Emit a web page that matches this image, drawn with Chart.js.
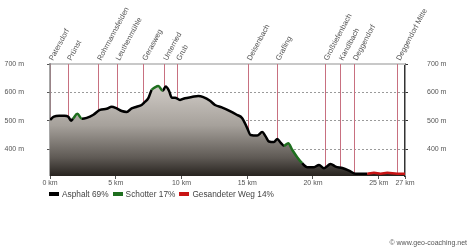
<!DOCTYPE html>
<html>
<head>
<meta charset="utf-8">
<script src="https://cdn.jsdelivr.net/npm/chart.js@4.4.1/dist/chart.umd.min.js"></script>
<style>
  html, body { margin: 0; padding: 0; background: #fff; }
  #wrap { position: relative; width: 474px; height: 247px; overflow: hidden; }
  #legend { position: absolute; left: 49px; top: 189px; font: 8.3px "Liberation Sans", Arial, sans-serif; color: #444; white-space: nowrap; }
  #legend span.sw { display: inline-block; width: 10px; height: 4px; margin-right: 3px; vertical-align: 1px; }
  #legend span.item { margin-right: 4px; }
  #copy { position: absolute; right: 7px; top: 239px; font: 7px "Liberation Sans", Arial, sans-serif; color: #555; }
</style>
</head>
<body>
<div id="wrap">
  <canvas id="profileChart" width="474" height="247"></canvas>
  <div id="legend"></div>
  <div id="copy">© www.geo-coaching.net</div>
</div>
<script>
// profile: distance (km) and elevation (m)
const distKm = [0, 0.3, 0.7, 1.1, 1.39, 1.6, 1.75, 2.08, 2.43, 2.79, 3.3, 3.8, 4.31, 4.69, 5.07, 5.45, 5.83, 6.21, 6.59, 6.97,
  7.15, 7.48, 7.73, 7.98, 8.24, 8.57, 8.8, 9.05, 9.26, 9.51, 9.89, 10.27, 10.78, 11.28, 11.66, 12.17, 12.55, 13.06, 13.69, 14.2,
  14.62, 15.0, 15.26, 15.76, 16.14, 16.4, 16.65, 17.03, 17.29, 17.54, 17.79, 18.12, 18.42, 18.8, 19.18, 19.57, 20.08, 20.46, 20.84, 21.34,
  21.72, 22.23, 22.74, 23.25, 24.0, 24.13, 24.64, 25.15, 25.65, 26.41, 27];
const elevM = [504, 515, 518, 518, 515, 501, 508, 525, 508, 511, 522, 539, 543, 550, 544, 535, 532, 544, 550, 556,
  564, 580, 609, 618, 623, 606, 621, 606, 582, 582, 574, 580, 584, 588, 584, 571, 556, 548, 535, 522,
  510, 475, 451, 449, 461, 446, 428, 426, 437, 424, 413, 422, 399, 373, 352, 338, 338, 346, 334, 349,
  340, 335, 326, 315, 315, 315, 318, 315, 318, 315, 315];
// surface of the segment starting at each point: A = Asphalt, S = Schotter, G = Gesandeter Weg
const surface = ["A","A","A","A","A","A","S","S","A","A","A","A","A","A","A","A","A","A","A","A",
  "A","A","S","S","S","A","A","A","A","A","A","A","A","A","A","A","A","A","A","A",
  "A","A","A","A","A","A","A","A","A","A","S","S","S","S","A","A","A","A","A","A",
  "A","A","A","A","A","G","G","G","G","G","G"];

const surfaceNames = ["Asphalt 69%", "Schotter 17%", "Gesandeter Weg 14%"];
const surfaceColors = { A: "#000000", S: "#1e6e1e", G: "#c81414" };

const waypointKm = [0, 1.39, 3.67, 5.07, 7.1, 8.69, 9.68, 15.06, 17.24, 20.89, 22.05, 23.12, 26.41];
const waypointNames = ["Patersdorf", "Prünst", "Rohrmannsfelden", "Leuthenmühle", "Gerasweg", "Unterried", "Grub",
  "Deisenbach", "Grafling", "Großtiefenbach", "Kandlbach", "Deggendorf", "Deggendorf Mitte"];

const xTicks = [0, 5, 10, 15, 20, 25, 27];
const yTicks = [400, 500, 600, 700];

const legendEl = document.getElementById("legend");
["A", "S", "G"].forEach((k, i) => {
    const item = document.createElement("span");
    item.className = "item";
    item.innerHTML = `<span class="sw" style="background:${surfaceColors[k]}"></span>${surfaceNames[i]}`;
    legendEl.appendChild(item);
});

const tickFont = { family: "Liberation Sans", size: 7 };
const profilePoints = distKm.map((d, i) => ({ x: d, y: elevM[i] }));

const waypointPlugin = {
    id: "waypoints",
    beforeDatasetsDraw(chart) {
        const { ctx, chartArea, scales } = chart;
        ctx.save();
        // top border at 700 m
        ctx.strokeStyle = "#c8c8c8";
        ctx.lineWidth = 2;
        ctx.beginPath();
        ctx.moveTo(chartArea.left, chartArea.top);
        ctx.lineTo(chartArea.right, chartArea.top);
        ctx.stroke();
        ctx.strokeStyle = "#c87080";
        ctx.lineWidth = 1;
        waypointKm.forEach(km => {
            const x = Math.round(scales.x.getPixelForValue(km)) + 0.5;
            ctx.beginPath();
            ctx.moveTo(x, chartArea.top);
            ctx.lineTo(x, chartArea.bottom);
            ctx.stroke();
        });
        // left axis line
        ctx.strokeStyle = "#8a8a8a";
        ctx.lineWidth = 1.5;
        ctx.beginPath();
        ctx.moveTo(chartArea.left, chartArea.top - 1);
        ctx.lineTo(chartArea.left, chartArea.bottom);
        ctx.stroke();
        ctx.restore();
    },
    afterDraw(chart) {
        const { ctx, chartArea, scales } = chart;
        ctx.save();
        ctx.fillStyle = "#555";
        ctx.font = "7.5px 'Liberation Sans', Arial, sans-serif";
        ctx.textAlign = "left";
        ctx.textBaseline = "alphabetic";
        waypointKm.forEach((km, i) => {
            const x = scales.x.getPixelForValue(km);
            ctx.save();
            ctx.translate(x + 3, chartArea.top - 3);
            ctx.rotate(-62 * Math.PI / 180);
            ctx.fillText(waypointNames[i], 0, 0);
            ctx.restore();
        });
        ctx.restore();
    }
};

new Chart(document.getElementById("profileChart"), {
    type: "line",
    data: {
        datasets: [
            {
                // surface-coloured profile line
                data: profilePoints,
                borderColor: "#000",
                borderWidth: 2.5,
                pointRadius: 0,
                cubicInterpolationMode: "monotone",
                fill: false,
                segment: {
                    borderColor: c => surfaceColors[surface[c.p0DataIndex]]
                }
            },
            {
                // shaded area under the profile
                data: profilePoints,
                borderWidth: 0,
                borderColor: "rgba(0,0,0,0)",
                pointRadius: 0,
                cubicInterpolationMode: "monotone",
                fill: "start",
                backgroundColor: (context) => {
                    const { ctx, chartArea } = context.chart;
                    if (!chartArea) return "#999";
                    const g = ctx.createLinearGradient(0, chartArea.top + 20, 0, chartArea.bottom);
                    g.addColorStop(0, "#d2cdc8");
                    g.addColorStop(0.45, "#a6a19b");
                    g.addColorStop(0.8, "#5f5a55");
                    g.addColorStop(1, "#27231f");
                    return g;
                }
            }
        ]
    },
    options: {
        responsive: false,
        animation: false,
        layout: { padding: { top: 64, left: 0, right: 0, bottom: 0 } },
        plugins: { legend: { display: false }, tooltip: { enabled: false } },
        scales: {
            x: {
                type: "linear",
                min: 0,
                max: 27,
                afterBuildTicks: s => { s.ticks = xTicks.map(v => ({ value: v })); },
                afterFit: s => { s.height = 71; },
                grid: { display: true, drawOnChartArea: false, tickLength: 3, color: "#555" },
                border: { display: false },
                ticks: { font: tickFont, color: "#555", padding: 0, maxRotation: 0, callback: v => v + " km" }
            },
            y: {
                position: "left",
                min: 307,
                max: 700,
                afterBuildTicks: s => { s.ticks = yTicks.map(v => ({ value: v })); },
                afterFit: s => { s.width = 50; },
                grid: {
                    color: c => c.tick && c.tick.value === 700 ? "rgba(0,0,0,0)" : "#9a9a9a",
                    tickColor: "#555",
                    tickLength: 3,
                    tickBorderDash: [],
                    lineWidth: 1
                },
                border: { display: false, dash: [2, 2] },
                ticks: { font: tickFont, color: "#555", padding: 23, callback: v => v + " m" }
            },
            y2: {
                position: "right",
                min: 307,
                max: 700,
                afterBuildTicks: s => { s.ticks = yTicks.map(v => ({ value: v })); },
                afterFit: s => { s.width = 69; },
                grid: { drawOnChartArea: false, tickLength: 3, color: "#333" },
                border: { display: true, color: "#333", width: 1.5 },
                ticks: { font: tickFont, color: "#555", padding: 19, callback: v => v + " m" }
            }
        }
    },
    plugins: [waypointPlugin]
});
</script>
</body>
</html>
